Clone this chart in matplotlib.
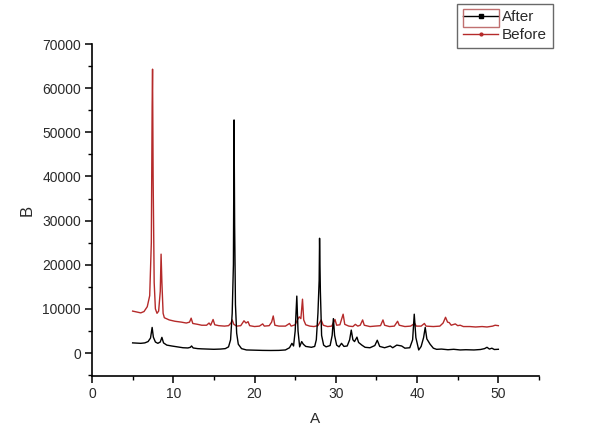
import matplotlib
matplotlib.use("Agg")
import matplotlib.pyplot as plt
from matplotlib.lines import Line2D
from matplotlib.patches import Rectangle
from matplotlib.ticker import MultipleLocator

plt.rcParams['font.family'] = ['Liberation Sans', 'DejaVu Sans']

after_x = [5.0, 5.5, 6.0, 6.5, 6.9, 7.2, 7.4, 7.55, 7.8, 8.1, 8.4, 8.6, 8.8, 9.2, 9.8,
           10.5, 11.2, 11.8, 12.1, 12.25, 12.45, 13.0, 13.5, 14.2, 15.0, 15.8, 16.4, 16.8,
           17.05, 17.25, 17.4, 17.48, 17.55, 17.65, 17.8, 18.0, 18.4, 19.0, 20.0, 21.0,
           22.0, 23.0, 23.8, 24.3, 24.6, 24.8, 25.0, 25.2, 25.35, 25.55, 25.8, 26.0, 26.3,
           27.0, 27.4, 27.6, 27.8, 27.95, 28.0, 28.1, 28.25, 28.5, 28.8, 29.3, 29.55, 29.7,
           29.85, 30.1, 30.4, 30.7, 31.0, 31.4, 31.7, 31.9, 32.1, 32.3, 32.6, 32.8, 33.2,
           33.6, 34.2, 34.8, 35.1, 35.4, 36.0, 36.7, 37.0, 37.5, 38.1, 38.5, 39.1, 39.45,
           39.65, 39.85, 40.2, 40.5, 40.8, 41.0, 41.2, 41.4, 41.6, 42.0, 42.4, 43.0, 43.8,
           44.5, 45.3, 46.0, 47.0, 47.8, 48.3, 48.6, 48.9, 49.2, 49.5, 50.0]
after_y = [2300, 2250, 2200, 2300, 2600, 3400, 5800, 3600, 2500, 2200, 2500, 3550, 2300, 1800, 1600,
           1400, 1200, 1150, 1300, 1600, 1150, 1000, 950, 900, 850, 900, 1000, 1400,
           3000, 9000, 20000, 52800, 29000, 11000, 4500, 2000, 1000, 700, 650, 600,
           580, 600, 700, 1200, 2200, 1600, 5000, 12900, 5000, 1400, 2600, 2000, 1500,
           1300, 1500, 3000, 9000, 16500, 26000, 14000, 4000, 1800, 1400, 1700, 4000, 7800,
           4000, 1800, 1400, 2200, 1500, 1600, 3000, 5200, 3000, 2600, 3600, 2400, 1800,
           1300, 1200, 1700, 2900, 1500, 1200, 1600, 1200, 1800, 1600, 1100, 1200, 3000,
           8800, 3500, 700, 1500, 3500, 5800, 3200, 2600, 2000, 1100, 840, 900, 750,
           850, 700, 750, 700, 800, 1000, 1300, 900, 1100, 800, 850]

before_x = [5.0, 5.5, 6.0, 6.4, 6.8, 7.1, 7.3, 7.4, 7.45, 7.52, 7.65, 7.8, 8.0, 8.2, 8.4,
            8.5, 8.6, 8.75, 8.9, 9.5, 10.2, 11.0, 11.6, 12.0, 12.2, 12.4, 13.0, 13.5, 14.1,
            14.4, 14.6, 14.9, 15.1, 15.6, 16.3, 16.8, 17.1, 17.25, 17.45, 17.8, 18.3, 18.7,
            18.95, 19.2, 19.4, 20.0, 20.6, 21.0, 21.2, 21.8, 22.1, 22.3, 22.5, 23.0, 23.8,
            24.3, 24.5, 25.0, 25.3, 25.5, 25.7, 25.9, 26.05, 26.3, 26.8, 27.3, 27.8, 28.2,
            28.45, 29.0, 29.5, 29.9, 30.1, 30.5, 30.9, 31.1, 31.6, 32.1, 32.4, 32.7, 33.0,
            33.3, 33.5, 34.2, 34.8, 35.5, 35.8, 36.0, 36.6, 37.2, 37.6, 37.8, 38.5, 39.2,
            39.7, 39.9, 40.5, 40.9, 41.1, 42.0, 42.8, 43.2, 43.5, 43.75, 43.95, 44.2, 44.7,
            45.0, 45.3, 45.7, 46.5, 47.2, 48.0, 48.6, 49.3, 49.6, 50.0]
before_y = [9500, 9300, 9100, 9400, 10500, 13000, 25000, 56000, 64300, 40000, 16000, 10000, 9000, 9500, 14000,
            22400, 16000, 9000, 8000, 7500, 7200, 7000, 6800, 7000, 7900, 6700, 6500, 6300, 6300,
            6800, 6300, 7600, 6400, 6200, 6100, 6200, 6800, 7500, 6500, 6100, 6200, 7300,
            6800, 7100, 6200, 6000, 6100, 6600, 6100, 6200, 7000, 8400, 6300, 6100, 6100,
            6700, 6100, 6400, 7600, 8200, 7800, 12200, 7500, 6400, 6100, 6000, 6200, 7500,
            6300, 6000, 6100, 7600, 6300, 6400, 8800, 6500, 6100, 6000, 6500, 6100, 6300,
            7500, 6300, 6000, 6100, 6200, 7500, 6300, 6000, 6100, 7200, 6300, 6000, 6100,
            6700, 6100, 6100, 6700, 6100, 6000, 6100, 6800, 8100, 7000, 6900, 6300, 6600,
            6200, 6300, 6000, 6000, 5900, 6000, 5900, 6100, 6300, 6200]

series_labels = ['After', 'Before']
x_label = 'A'
y_label = 'B'

RED = '#b52a2a'
TXT = '#2a2a2a'

fig = plt.figure(figsize=(6, 4.29), dpi=100)
ax = fig.add_axes([92/600, 1-376/429, (539-92)/600, (376-44)/429])

ax.plot(before_x, before_y, color=RED, lw=1.0)
ax.plot(after_x, after_y, color='black', lw=1.0)

ax.set_xlim(0, 55)
ax.set_ylim(-5200, 70000)
ax.xaxis.set_major_locator(MultipleLocator(10))
ax.xaxis.set_minor_locator(MultipleLocator(5))
ax.yaxis.set_major_locator(MultipleLocator(10000))
ax.yaxis.set_minor_locator(MultipleLocator(5000))

for s in ['top', 'right']:
    ax.spines[s].set_visible(False)
for s in ['left', 'bottom']:
    ax.spines[s].set_linewidth(1.2)

ax.tick_params(which='major', direction='out', length=5, width=1.1, labelsize=10,
               labelcolor=TXT, pad=3)
ax.tick_params(which='minor', direction='out', length=3, width=1.0)

ax.set_xlabel(x_label, fontsize=11, color=TXT, labelpad=8)
ax.set_ylabel(y_label, fontsize=12, color=TXT, labelpad=5)

handles = [Line2D([0], [0], color='black', lw=1.0, marker='s', markersize=3),
           Line2D([0], [0], color=RED, lw=1.0, marker='o', markersize=2)]
leg = fig.legend(handles, series_labels, loc='upper left',
                 bbox_to_anchor=(457/600, 1-4/429), fontsize=11,
                 fancybox=False, frameon=True, handlelength=2.3,
                 borderpad=0.4, labelspacing=0.25, handletextpad=0.25,
                 borderaxespad=0)
leg.get_frame().set_edgecolor('#444444')
leg.get_frame().set_linewidth(1.0)
for t in leg.get_texts():
    t.set_color(TXT)

rect = Rectangle((463/600, 1-27/429), 36/600, 18/429, transform=fig.transFigure,
                 fill=False, edgecolor='#c07070', lw=1.0, zorder=20)
fig.add_artist(rect)

fig.savefig('out.png', dpi=100)
